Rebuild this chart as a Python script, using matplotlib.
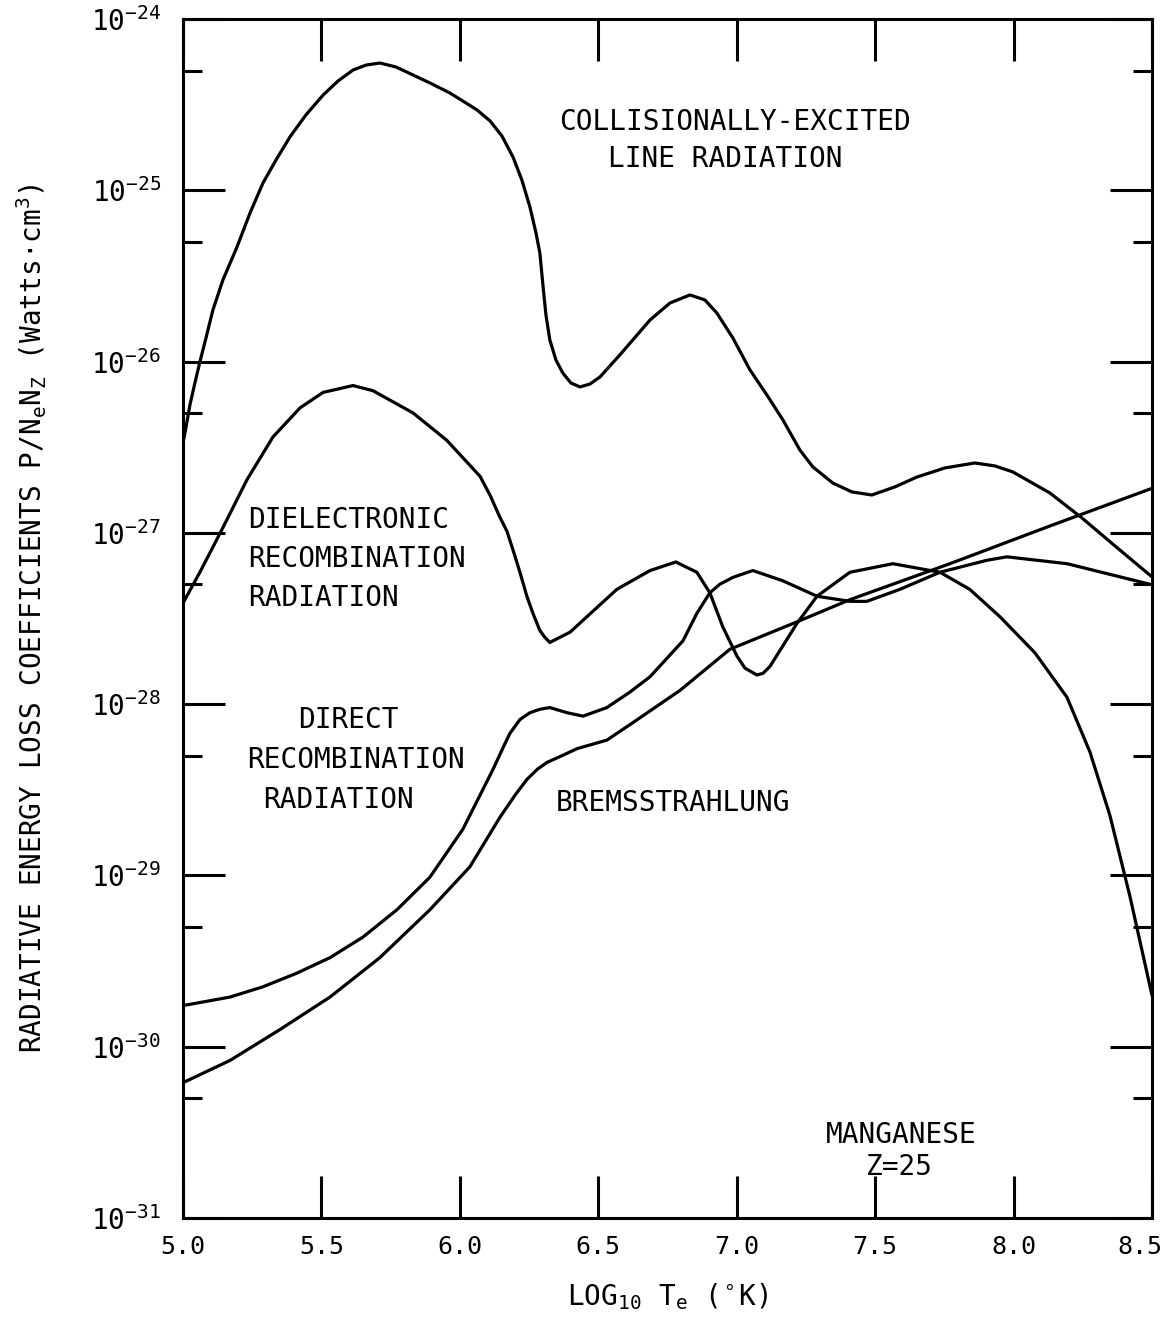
import numpy as np
import matplotlib
matplotlib.use("Agg")
import matplotlib.pyplot as plt
from matplotlib.ticker import LogLocator, FixedLocator, FuncFormatter, NullFormatter
from matplotlib.transforms import ScaledTranslation

# ---------------- data (log10 T_e , log10 P/NeNz) ----------------
line_T = [5.000, 5.011, 5.025, 5.043, 5.061, 5.083, 5.108, 5.144, 5.195, 5.242,
          5.289, 5.336, 5.386, 5.444, 5.506, 5.560, 5.614, 5.661, 5.711, 5.769,
          5.831, 5.899, 5.964, 6.011, 6.062, 6.109, 6.152, 6.192, 6.224, 6.253,
          6.275, 6.289, 6.300, 6.311, 6.325, 6.347, 6.372, 6.401, 6.434, 6.470,
          6.506, 6.578, 6.687, 6.759, 6.831, 6.885, 6.928, 6.986, 7.048, 7.109,
          7.167, 7.228, 7.275, 7.347, 7.416, 7.488, 7.571, 7.651, 7.752, 7.860,
          7.932, 7.997, 8.131, 8.247, 8.366, 8.500]
line_logP = [-26.475, -26.382, -26.253, -26.125, -26.002, -25.862, -25.699, -25.524,
             -25.331, -25.133, -24.957, -24.823, -24.689, -24.560, -24.444, -24.362,
             -24.298, -24.269, -24.257, -24.280, -24.327, -24.379, -24.432, -24.479,
             -24.531, -24.595, -24.683, -24.806, -24.940, -25.097, -25.249, -25.366,
             -25.553, -25.728, -25.874, -25.991, -26.067, -26.125, -26.148, -26.131,
             -26.090, -25.961, -25.757, -25.658, -25.611, -25.640, -25.716, -25.862,
             -26.049, -26.195, -26.341, -26.516, -26.615, -26.709, -26.761, -26.779,
             -26.732, -26.674, -26.621, -26.592, -26.609, -26.644, -26.767, -26.913,
             -27.076, -27.257]

diel_T = [5.000, 5.061, 5.144, 5.231, 5.325, 5.423, 5.506, 5.614, 5.686, 5.831,
          5.953, 6.073, 6.109, 6.145, 6.170, 6.192, 6.217, 6.242, 6.264, 6.289,
          6.307, 6.325, 6.361, 6.398, 6.445, 6.567, 6.687, 6.780, 6.856, 6.903,
          6.950, 7.001, 7.030, 7.073, 7.095, 7.120, 7.217, 7.290, 7.409, 7.564,
          7.734, 7.842, 7.951, 8.077, 8.193, 8.276, 8.348, 8.420, 8.500]
diel_logP = [-27.41, -27.23, -26.97, -26.69, -26.44, -26.27, -26.18, -26.14, -26.17,
             -26.30, -26.46, -26.67, -26.78, -26.91, -26.99, -27.10, -27.23, -27.37,
             -27.47, -27.57, -27.61, -27.64, -27.61, -27.58, -27.51, -27.33, -27.22,
             -27.17, -27.23, -27.35, -27.55, -27.72, -27.79, -27.83, -27.82, -27.78,
             -27.53, -27.37, -27.23, -27.18, -27.23, -27.33, -27.49, -27.70, -27.96,
             -28.28, -28.65, -29.12, -29.70]

direct_T = [5.000, 5.170, 5.289, 5.412, 5.531, 5.650, 5.773, 5.892, 6.011, 6.120,
            6.163, 6.181, 6.217, 6.253, 6.289, 6.325, 6.387, 6.445, 6.531, 6.614,
            6.687, 6.806, 6.856, 6.903, 6.939, 6.986, 7.058, 7.167, 7.290, 7.409,
            7.470, 7.589, 7.734, 7.904, 7.976, 8.193, 8.492]
direct_logP = [-29.76, -29.71, -29.65, -29.57, -29.48, -29.36, -29.20, -29.01, -28.73,
               -28.38, -28.23, -28.17, -28.09, -28.05, -28.03, -28.02, -28.05, -28.07,
               -28.02, -27.93, -27.84, -27.63, -27.47, -27.35, -27.30, -27.26, -27.22,
               -27.28, -27.37, -27.40, -27.40, -27.33, -27.23, -27.16, -27.14, -27.18,
               -27.30]

brems_T = [5.000, 5.170, 5.350, 5.531, 5.711, 5.892, 6.036, 6.145, 6.200, 6.242,
           6.280, 6.315, 6.370, 6.423, 6.531, 6.614, 6.795, 6.975, 7.217, 7.409,
           7.770, 8.131, 8.500]
brems_logP = [-30.21, -30.08, -29.90, -29.71, -29.48, -29.20, -28.95, -28.66, -28.53,
              -28.44, -28.38, -28.34, -28.30, -28.26, -28.21, -28.12, -27.92, -27.68,
              -27.52, -27.39, -27.18, -26.96, -26.74]

x_ticks = [5.0, 5.5, 6.0, 6.5, 7.0, 7.5, 8.0, 8.5]
x_ticklabels = ["5.0", "5.5", "6.0", "6.5", "7.0", "7.5", "8.0", "8.5"]
y_decades = [-31, -30, -29, -28, -27, -26, -25, -24]

# ---------------- style ----------------
MONO = "DejaVu Sans Mono"
plt.rcParams["font.family"] = [MONO, "DejaVu Sans"]
plt.rcParams["mathtext.fontset"] = "custom"
plt.rcParams["mathtext.rm"] = MONO
plt.rcParams["mathtext.it"] = MONO
plt.rcParams["mathtext.bf"] = MONO

fig = plt.figure(figsize=(11.71, 13.26), dpi=100)
ax = fig.add_axes([183 / 1171, 1 - 1218 / 1326, (1152 - 183) / 1171, (1218 - 19) / 1326])

lw = 2.3
for T, lp in [(line_T, line_logP), (diel_T, diel_logP),
              (direct_T, direct_logP), (brems_T, brems_logP)]:
    ax.plot(T, 10.0 ** np.array(lp), color="black", lw=lw,
            solid_joinstyle="round", solid_capstyle="round")

ax.set_yscale("log")
ax.set_xlim(5.0, 8.5)
ax.set_ylim(1e-31, 1e-24)

ax.xaxis.set_major_locator(FixedLocator(x_ticks))
ax.set_xticklabels(x_ticklabels)
ax.yaxis.set_major_locator(FixedLocator([10.0 ** d for d in y_decades]))
ax.yaxis.set_major_formatter(FuncFormatter(lambda v, p: r"$10^{%d}$" % int(round(np.log10(v)))))
ax.yaxis.set_minor_locator(LogLocator(base=10, subs=[5.0], numticks=20))
ax.yaxis.set_minor_formatter(NullFormatter())

ax.tick_params(axis="both", which="major", direction="in", length=30, width=2.2,
               top=True, right=True)
ax.tick_params(axis="y", which="major", labelsize=20, pad=16)
ax.tick_params(axis="x", which="major", labelsize=18, pad=12)
ax.tick_params(axis="y", which="minor", direction="in", length=14, width=2.2,
               left=True, right=True)

for s in ax.spines.values():
    s.set_linewidth(2.2)

# nudge the last x tick label so it stays inside the figure
last = ax.xaxis.get_major_ticks()[-1].label1
last.set_transform(last.get_transform() + ScaledTranslation(-9 / 72, 0, fig.dpi_scale_trans))

ax.set_ylabel(r"RADIATIVE ENERGY LOSS COEFFICIENTS P/N$_e$N$_Z$ (Watts$\cdot$cm$^3$)",
              fontsize=20, labelpad=30)
ax.set_xlabel(r"LOG$_{10}$ T$_e$ ($^\circ$K)", fontsize=20, labelpad=16)

fs = 20
ax.text(6.993, 10 ** -24.60, "COLLISIONALLY-EXCITED", ha="center", va="center", fontsize=fs)
ax.text(6.957, 10 ** -24.82, "LINE RADIATION", ha="center", va="center", fontsize=fs)

ax.text(5.235, 10 ** -26.925, "DIELECTRONIC", ha="left", va="center", fontsize=fs)
ax.text(5.235, 10 ** -27.152, "RECOMBINATION", ha="left", va="center", fontsize=fs)
ax.text(5.235, 10 ** -27.380, "RADIATION", ha="left", va="center", fontsize=fs)

ax.text(5.596, 10 ** -28.092, "DIRECT", ha="center", va="center", fontsize=fs)
ax.text(5.625, 10 ** -28.326, "RECOMBINATION", ha="center", va="center", fontsize=fs)
ax.text(5.563, 10 ** -28.559, "RADIATION", ha="center", va="center", fontsize=fs)

ax.text(6.770, 10 ** -28.577, "BREMSSTRAHLUNG", ha="center", va="center", fontsize=fs)

ax.text(7.593, 10 ** -30.515, "MANGANESE", ha="center", va="center", fontsize=fs)
ax.text(7.586, 10 ** -30.702, "Z=25", ha="center", va="center", fontsize=fs)

fig.savefig("out.png", dpi=100)
